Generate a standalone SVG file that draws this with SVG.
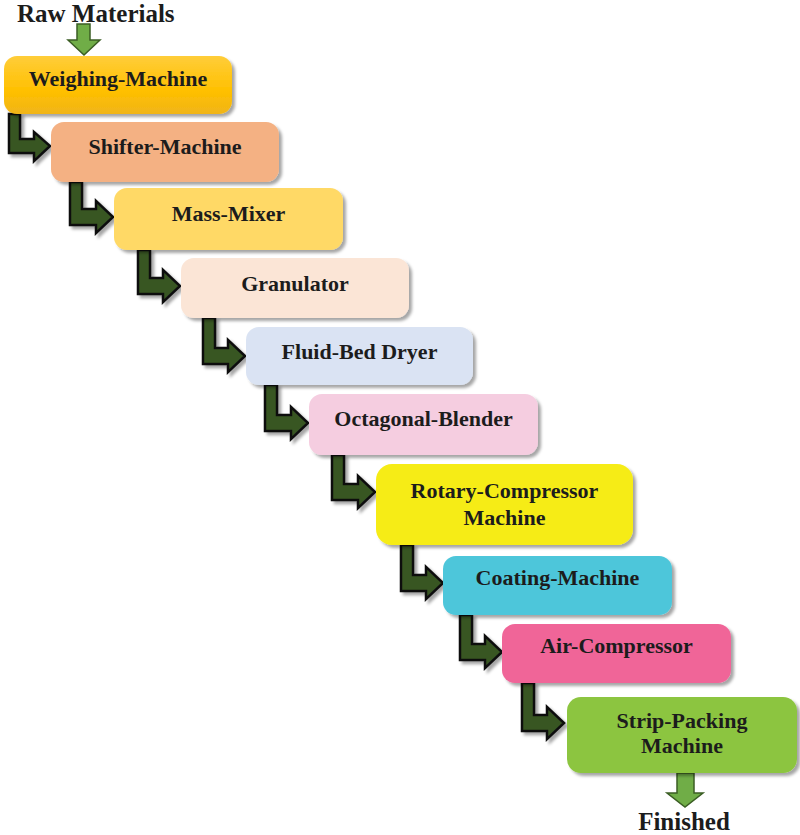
<svg xmlns="http://www.w3.org/2000/svg" width="800" height="835" viewBox="0 0 800 835">
<defs>
  <filter id="sh" x="-10%" y="-10%" width="130%" height="140%">
    <feDropShadow dx="3" dy="3" stdDeviation="1.5" flood-color="#000" flood-opacity="0.35"/>
  </filter>
  <linearGradient id="g1" x1="0" y1="0" x2="0" y2="1">
    <stop offset="0" stop-color="#FFCD3A"/>
    <stop offset="0.6" stop-color="#FFC000"/>
    <stop offset="1" stop-color="#F0B418"/>
  </linearGradient>
  <style>
    .box { filter: url(#sh); }
    .lbl { font-family: "Liberation Serif", "Times New Roman", serif; font-weight: bold; font-size: 22px; fill: #1c1c1c; text-anchor: middle; }
    .big { font-family: "Liberation Serif", "Times New Roman", serif; font-weight: bold; font-size: 25px; fill: #1c1c1c; }
    .elbow { fill: #375623; stroke: #111; stroke-width: 2.5; stroke-linejoin: miter; filter: url(#sh); }
    .io { fill: #70AD47; stroke: #3B5E24; stroke-width: 1.5; }
  </style>
</defs>
<rect width="800" height="835" fill="#fff"/>

<g id="connectors">
  <path class="io" d="M77,24 H90 V40 H100 L84,55 L68,40 H77 Z"/>
  <path class="elbow" d="M9,114 H20 V139 H34 V132 L50,146 L34,161 V153 H9 Z"/>
  <path class="elbow" d="M70,182 H82 V209 H96 V201 L113,217 L96,233 V225 H70 Z"/>
  <path class="elbow" d="M138,250 H150 V278 H163 V270 L180,286 L163,302 V294 H138 Z"/>
  <path class="elbow" d="M203,318 H215 V348 H228 V340 L245,356 L228,372 V364 H203 Z"/>
  <path class="elbow" d="M265,385 H277 V415 H291 V407 L308,423 L291,439 V431 H265 Z"/>
  <path class="elbow" d="M332,455 H344 V484 H358 V476 L375,492 L358,508 V500 H332 Z"/>
  <path class="elbow" d="M401,545 H413 V575 H426 V567 L443,583 L426,599 V591 H401 Z"/>
  <path class="elbow" d="M460,615 H472 V644 H485 V636 L502,652 L485,668 V660 H460 Z"/>
  <path class="elbow" d="M522,683 H534 V715 H547 V707 L564,723 L547,739 V731 H522 Z"/>
  <path class="io" d="M677,773 H694 V793 H703 L685,807 L667,793 H677 Z"/>
</g>

<text class="big" x="17" y="22">Raw Materials</text>
<text class="big" x="684" y="830" text-anchor="middle">Finished</text>

<g id="weighing">
  <rect class="box" x="4" y="56" width="228" height="58" rx="13" fill="url(#g1)"/>
  <text class="lbl" x="118" y="86">Weighing-Machine</text>
</g>
<g id="shifter">
  <rect class="box" x="51" y="122" width="228" height="60" rx="13" fill="#F4B183"/>
  <text class="lbl" x="165" y="154">Shifter-Machine</text>
</g>
<g id="mass-mixer">
  <rect class="box" x="114" y="188" width="229" height="62" rx="13" fill="#FFD966"/>
  <text class="lbl" x="228.5" y="221">Mass-Mixer</text>
</g>
<g id="granulator">
  <rect class="box" x="181" y="258" width="228" height="60" rx="13" fill="#FBE5D6"/>
  <text class="lbl" x="295" y="291">Granulator</text>
</g>
<g id="fluid-bed">
  <rect class="box" x="246" y="327" width="227" height="58" rx="13" fill="#DAE3F3"/>
  <text class="lbl" x="359.5" y="359">Fluid-Bed Dryer</text>
</g>
<g id="octagonal">
  <rect class="box" x="309" y="394" width="229" height="61" rx="13" fill="#F5CDE0"/>
  <text class="lbl" x="423.5" y="426">Octagonal-Blender</text>
</g>
<g id="rotary">
  <rect class="box" x="376" y="464" width="257" height="81" rx="16" fill="#F6EC18"/>
  <text class="lbl" x="504.5" y="498">Rotary-Compressor</text>
  <text class="lbl" x="504.5" y="525">Machine</text>
</g>
<g id="coating">
  <rect class="box" x="443" y="556" width="229" height="59" rx="13" fill="#4DC6DA"/>
  <text class="lbl" x="557.5" y="585">Coating-Machine</text>
</g>
<g id="air">
  <rect class="box" x="502" y="624" width="229" height="59" rx="13" fill="#F06598"/>
  <text class="lbl" x="616.5" y="653">Air-Compressor</text>
</g>
<g id="strip">
  <rect class="box" x="567" y="697" width="230" height="76" rx="14" fill="#8CC540"/>
  <text class="lbl" x="682" y="728">Strip-Packing</text>
  <text class="lbl" x="682" y="753">Machine</text>
</g>
</svg>
